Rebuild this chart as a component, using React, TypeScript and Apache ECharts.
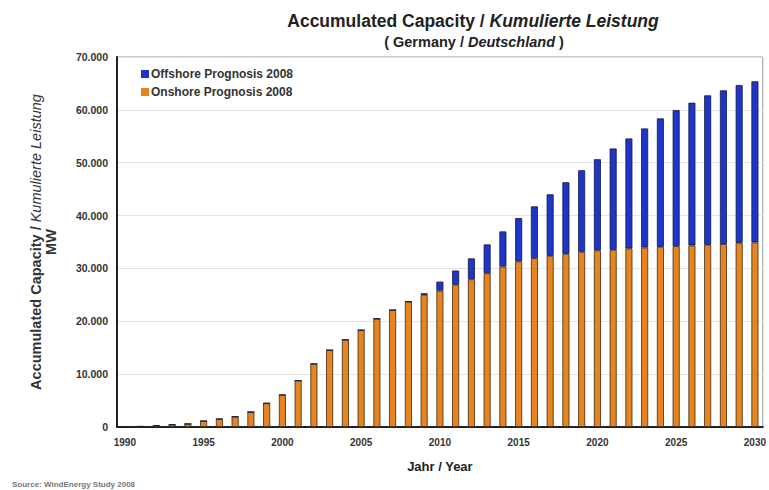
import React, { useEffect, useRef } from "react";
import * as echarts from "echarts";

const years: string[] = [];
for (let y = 1990; y <= 2030; y++) years.push(String(y));

const onshore = [
  60, 110, 250, 450, 600, 1140, 1520, 1960, 2850, 4500, 6070, 8790, 11950, 14550, 16510,
  18340, 20490, 22140, 23720, 25000, 25800, 26900, 27950, 29100, 30360, 31310, 31940,
  32380, 32760, 33140, 33400, 33520, 33780, 33960, 34090, 34220, 34350, 34470, 34600,
  34850, 34910,
];

const offshore = [
  0, 0, 0, 0, 0, 0, 0, 0, 0, 0, 0, 0, 0, 0, 0, 0, 0, 0, 0,
  300, 1700, 2700, 3950, 5440, 6640, 8220, 9800, 11640, 13540, 15440, 17260, 19170,
  20800, 22520, 24290, 25740, 27000, 28270, 29090, 29850, 30490,
];

const FONT = "'Liberation Sans', Arial, sans-serif";

export default function App() {
  const ref = useRef<HTMLDivElement>(null);
  useEffect(() => {
    if (!ref.current) return;
    const chart = echarts.init(ref.current, undefined, { renderer: "svg" });
    chart.setOption({
      animation: false,
      backgroundColor: "#ffffff",
      textStyle: { fontFamily: FONT },
      title: [
        {
          text: "{b|Accumulated Capacity / }{i|Kumulierte Leistung}",
          left: 468,
          textAlign: "center",
          top: 7,
          textStyle: {
            rich: {
              b: { fontSize: 17.5, fontWeight: "bold", color: "#222", fontFamily: FONT },
              i: { fontSize: 17.5, fontStyle: "italic", color: "#222", fontFamily: FONT },
            },
          },
        },
        {
          text: "{b|( Germany / }{i|Deutschland}{b| )}",
          left: 469,
          textAlign: "center",
          top: 29,
          textStyle: {
            rich: {
              b: { fontSize: 14.5, fontWeight: "bold", color: "#222", fontFamily: FONT },
              i: { fontSize: 14.5, fontStyle: "italic", color: "#222", fontFamily: FONT },
            },
          },
        },
      ],
      legend: {
        orient: "vertical",
        left: 136,
        top: 63,
        itemWidth: 8,
        itemHeight: 8,
        itemGap: 6,
        icon: "rect",
        data: ["Offshore Prognosis 2008", "Onshore Prognosis 2008"],
        itemStyle: { borderWidth: 0 },
        textStyle: { fontSize: 12, fontWeight: "bold", color: "#333", fontFamily: FONT, padding: [0, 0, 0, -3] },
      },
      grid: {
        left: 117,
        right: 3,
        top: 57,
        bottom: 63,
        show: true,
        borderColor: "#999",
        borderWidth: 1,
      },
      xAxis: {
        type: "category",
        data: years,
        name: "Jahr / Year",
        nameLocation: "middle",
        nameGap: 33,
        nameTextStyle: { fontSize: 13, fontWeight: "bold", color: "#222", fontFamily: FONT },
        axisLine: { lineStyle: { color: "#222", width: 2 } },
        axisTick: { show: false },
        axisLabel: {
          interval: 4,
          fontSize: 10,
          fontWeight: "bold",
          color: "#333",
          margin: 10,
          fontFamily: FONT,
        },
      },
      yAxis: {
        type: "value",
        min: 0,
        max: 70000,
        interval: 10000,
        name: "{b|Accumulated Capacity / }{i|Kumulierte Leistung}\n{b|MW}",
        nameLocation: "middle",
        nameGap: 59,
        nameTextStyle: {
          rich: {
            b: { fontSize: 14.5, fontWeight: "bold", color: "#333", fontFamily: FONT, lineHeight: 15 },
            i: { fontSize: 14.5, fontStyle: "italic", color: "#333", fontFamily: FONT, lineHeight: 15 },
          },
        },
        axisLine: { show: true, lineStyle: { color: "#222", width: 2 } },
        axisTick: { show: false },
        splitLine: { lineStyle: { color: "#e4e4e4", width: 1 } },
        axisLabel: {
          fontSize: 10.5,
          fontWeight: "bold",
          color: "#333",
          margin: 9,
          fontFamily: FONT,
          formatter: (v: number) => (v === 0 ? "0" : v / 1000 + ".000"),
        },
      },
      graphic: [
        {
          type: "text",
          left: 12,
          top: 480,
          style: { text: "Source: WindEnergy Study 2008", fontSize: 8, fontWeight: "bold", fill: "#777", fontFamily: FONT },
        },
      ],
      series: [
        {
          name: "Onshore Prognosis 2008",
          type: "bar",
          stack: "total",
          data: onshore,
          barWidth: 7,
          itemStyle: { color: "#E8841F", borderColor: "#3a2a18", borderWidth: 0.8 },
        },
        {
          name: "Offshore Prognosis 2008",
          type: "bar",
          stack: "total",
          data: offshore,
          barWidth: 7,
          itemStyle: { color: "#1F35C8", borderColor: "#141a40", borderWidth: 0.8 },
        },
      ],
    });
    return () => chart.dispose();
  }, []);
  return <div ref={ref} style={{ width: 769, height: 490, position: "absolute", left: 0, top: 0 }} />;
}
